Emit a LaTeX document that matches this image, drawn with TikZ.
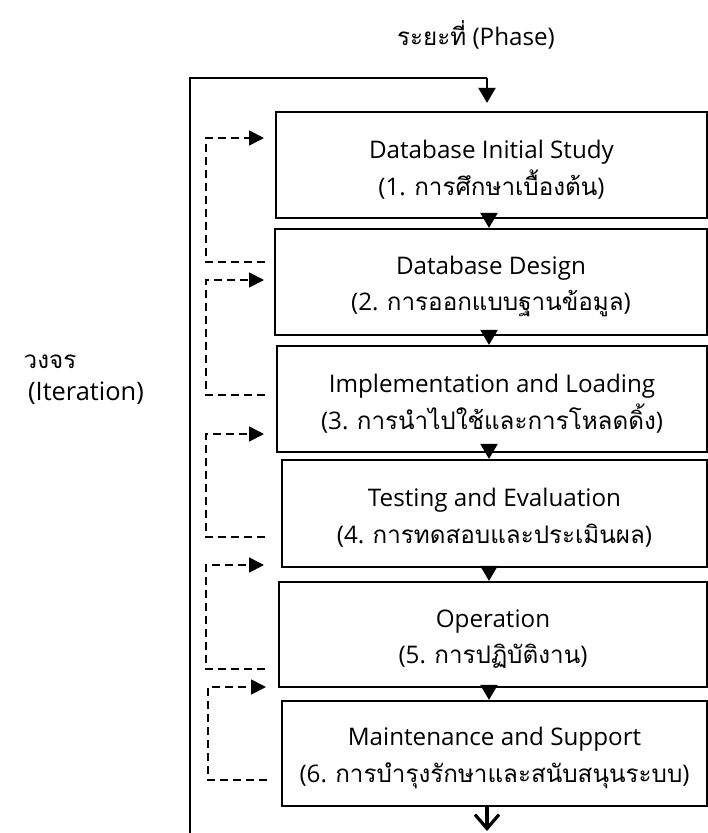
\documentclass[tikz,border=0pt]{standalone}
\usepackage{fontspec}
\setmainfont{Open Sans}
\newfontfamily\thai[Script=Thai]{Loma}
\usetikzlibrary{arrows.meta}
\begin{document}
\begin{tikzpicture}[x=1bp,y=-1bp,
  phasebox/.style={draw, line width=2.2bp, minimum height=106bp, inner sep=0pt},
  boxtext/.style={align=center, inner sep=0pt, font=\fontsize{24.3}{37}\selectfont},
  fb/.style={line width=1.8bp, dash pattern=on 8bp off 5bp},
  fbarrow/.style={fb, -{Triangle[length=15bp,width=15bp]}},
  downarrow/.style={line width=2.2bp, -{Triangle[length=15bp,width=17bp]}},
  lbl/.style={font=\fontsize{24.3}{30}\selectfont, inner sep=0pt}]
\useasboundingbox (0,0) rectangle (708,833);

% labels
\node[lbl] (phase) at (476,35) {{\thai ระยะที่} (Phase)};
\node[lbl] (cyc) at (50,362) {\thai วงจร};
\node[lbl, font=\fontsize{25.5}{30}\selectfont] (iter) at (86,393) {(Iteration)};

% boxes
\node[phasebox, minimum width=431bp] (b1) at (491.5,165) {};
\node[phasebox, minimum width=432bp] (b2) at (491,282) {};
\node[phasebox, minimum width=430bp] (b3) at (492,399) {};
\node[phasebox, minimum width=425bp, minimum height=107bp] (b4) at (494.5,513.5) {};
\node[phasebox, minimum width=428bp, minimum height=105bp] (b5) at (493,634.5) {};
\node[phasebox, minimum width=425bp, minimum height=105bp] (b6) at (494.5,753.5) {};

\node[boxtext] (t1) at ([yshift=-4.5bp]b1.center) {Database Initial Study\\(1. {\thai การศึกษาเบื้องต้น})};
\node[boxtext] (t2) at ([yshift=-4.5bp]b2.center) {Database Design\\(2. {\thai การออกแบบฐานข้อมูล})};
\node[boxtext] (t3) at ([yshift=-4.5bp]b3.center) {Implementation and Loading\\(3. {\thai การนำไปใช้และการโหลดดิ้ง})};
\node[boxtext] (t4) at ([yshift=-4.5bp]b4.center) {Testing and Evaluation\\(4. {\thai การทดสอบและประเมินผล})};
\node[boxtext] (t5) at ([yshift=-4.5bp]b5.center) {Operation\\(5. {\thai การปฏิบัติงาน})};
\node[boxtext] (t6) at ([yshift=-4.5bp]b6.center) {Maintenance and Support\\(6. {\thai การบำรุงรักษาและสนับสนุนระบบ})};

% main loop
\coordinate (lb) at (190,834);
\coordinate (lt) at (190,78);
\coordinate (rt) at (487,78);
\coordinate (ax) at (489,0);
\coordinate (bx) at (487,0);
\coordinate (bend) at (487,831);
\draw[line width=2.2bp] (lb) -- (lt) -- (rt);
\draw[downarrow] (rt) -- ([yshift=8bp]rt |- b1.north);

% arrows between boxes
\draw[downarrow] (b1.south -| ax) -- (b2.north -| ax);
\draw[downarrow] (b2.south -| ax) -- (b3.north -| ax);
\draw[downarrow] (b3.south -| ax) -- (b4.north -| ax);
\draw[downarrow] (b4.south -| ax) -- (b5.north -| ax);
\draw[downarrow] (b5.south -| ax) -- (b6.north -| ax);
\draw[line width=3.2bp, -{Straight Barb[length=14bp,width=24bp,line width=3.2bp]}] (b6.south -| bx) -- (bend);

% feedback loops
\coordinate (a1) at (264,138); \coordinate (l1) at (206,138); \coordinate (r1) at (265,262);
\coordinate (a2) at (264,280); \coordinate (l2) at (206,280); \coordinate (r2) at (265,395);
\coordinate (a3) at (264,434); \coordinate (l3) at (206,434); \coordinate (r3) at (265,537);
\coordinate (a4) at (264,565); \coordinate (l4) at (206,565); \coordinate (r4) at (265,669);
\coordinate (a5) at (266,687); \coordinate (l5) at (208,687); \coordinate (r5) at (267,780);
\draw[fbarrow] (r1) -- (r1 -| l1) -- (l1) -- (a1);
\draw[fbarrow] (r2) -- (r2 -| l2) -- (l2) -- (a2);
\draw[fbarrow] (r3) -- (r3 -| l3) -- (l3) -- (a3);
\draw[fbarrow] (r4) -- (r4 -| l4) -- (l4) -- (a4);
\draw[fbarrow] (r5) -- (r5 -| l5) -- (l5) -- (a5);
\end{tikzpicture}
\end{document}
